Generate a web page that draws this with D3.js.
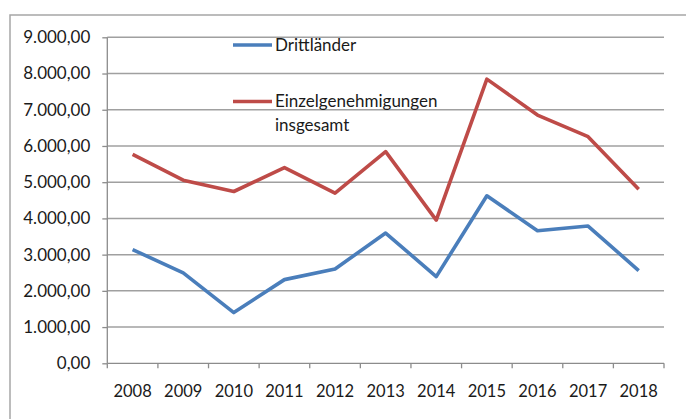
<!DOCTYPE html>
<html><head><meta charset="utf-8">
<script src="https://cdn.jsdelivr.net/npm/d3@7/dist/d3.min.js"></script>
<style>
body{margin:0;background:#fff;}
svg text{font-family:Lato, "Open Sans", sans-serif;fill:#1a1a1a;}
</style></head>
<body><svg id="c" width="686" height="419"></svg>
<script>
const years = ["2008","2009","2010","2011","2012","2013","2014","2015","2016","2017","2018"];
const drittlaender = [3140,2495,1400,2310,2605,3596,2394,4624,3661,3789,2560];
const einzel = [5770,5055,4743,5404,4697,5844,3954,7845,6853,6257,4807];
const yTicks = [0,1000,2000,3000,4000,5000,6000,7000,8000,9000];
const seriesNames = ["Drittländer","Einzelgenehmigungen|insgesamt"];
const colors = ["#4a7ebb","#be4b48"];

const svg = d3.select("#c");
const L=107.3, R=664, T=37.3, B=363.3;
const x = d3.scaleBand().domain(years).range([L,R]);
const y = d3.scaleLinear().domain([0,9000]).range([B,T]);

// frame
svg.append("path").attr("d","M10,419V15H686").attr("fill","none").attr("stroke","#a6a6a6").attr("stroke-width",1.5);

// gridlines
svg.append("g").selectAll("line").data(yTicks.filter(d=>d>0)).join("line")
  .attr("x1",L).attr("x2",R).attr("y1",d=>y(d)).attr("y2",d=>y(d))
  .attr("stroke","#a0a0a0").attr("stroke-width",1.5);

// y axis
const fmt = d3.formatLocale({decimal:",",thousands:".",grouping:[3],currency:["","€"]}).format(",.2f");
const ya = svg.append("g").attr("transform",`translate(${L},0)`)
  .call(d3.axisLeft(y).tickValues(yTicks).tickFormat(fmt).tickSize(5).tickPadding(12));
ya.select(".domain").attr("stroke","#8c8c8c").attr("stroke-width",1.3).attr("d",`M0,${T}V${B}`);
ya.selectAll(".tick line").attr("stroke","#8c8c8c").attr("stroke-width",1.3);
ya.selectAll("text").attr("font-size",17).attr("font-family","Lato").attr("fill","#1a1a1a");

// x axis
const xa = svg.append("g").attr("transform",`translate(0,${B})`)
  .call(d3.axisBottom(x).tickSize(0).tickPadding(22));
xa.select(".domain").attr("stroke","#8c8c8c").attr("stroke-width",1.3).attr("d",`M${L},0H${R}`);
xa.selectAll("text").attr("font-size",16.5).attr("font-family","Lato").attr("fill","#1a1a1a");
const bounds = years.map(d=>x(d)).concat([R]);
xa.append("g").selectAll("line").data(bounds).join("line")
  .attr("x1",d=>d).attr("x2",d=>d).attr("y1",0).attr("y2",5)
  .attr("stroke","#8c8c8c").attr("stroke-width",1.3);

// lines
const line = d3.line().x((d,i)=>x(years[i])+x.bandwidth()/2).y(d=>y(d));
[drittlaender,einzel].forEach((s,k)=>{
  svg.append("path").datum(s).attr("d",line).attr("fill","none")
    .attr("stroke",colors[k]).attr("stroke-width",3.6).attr("stroke-linejoin","round");
});

// legend
const legY=[45,101.5];
seriesNames.forEach((n,k)=>{
  svg.append("line").attr("x1",233).attr("x2",272).attr("y1",legY[k]).attr("y2",legY[k])
    .attr("stroke",colors[k]).attr("stroke-width",3.3);
  const parts=n.split("|");
  parts.forEach((p,j)=>{
    svg.append("text").attr("x",275).attr("y",legY[k]+j*24).attr("dy","0.35em")
      .attr("font-size",17).text(p);
  });
});
</script></body></html>
